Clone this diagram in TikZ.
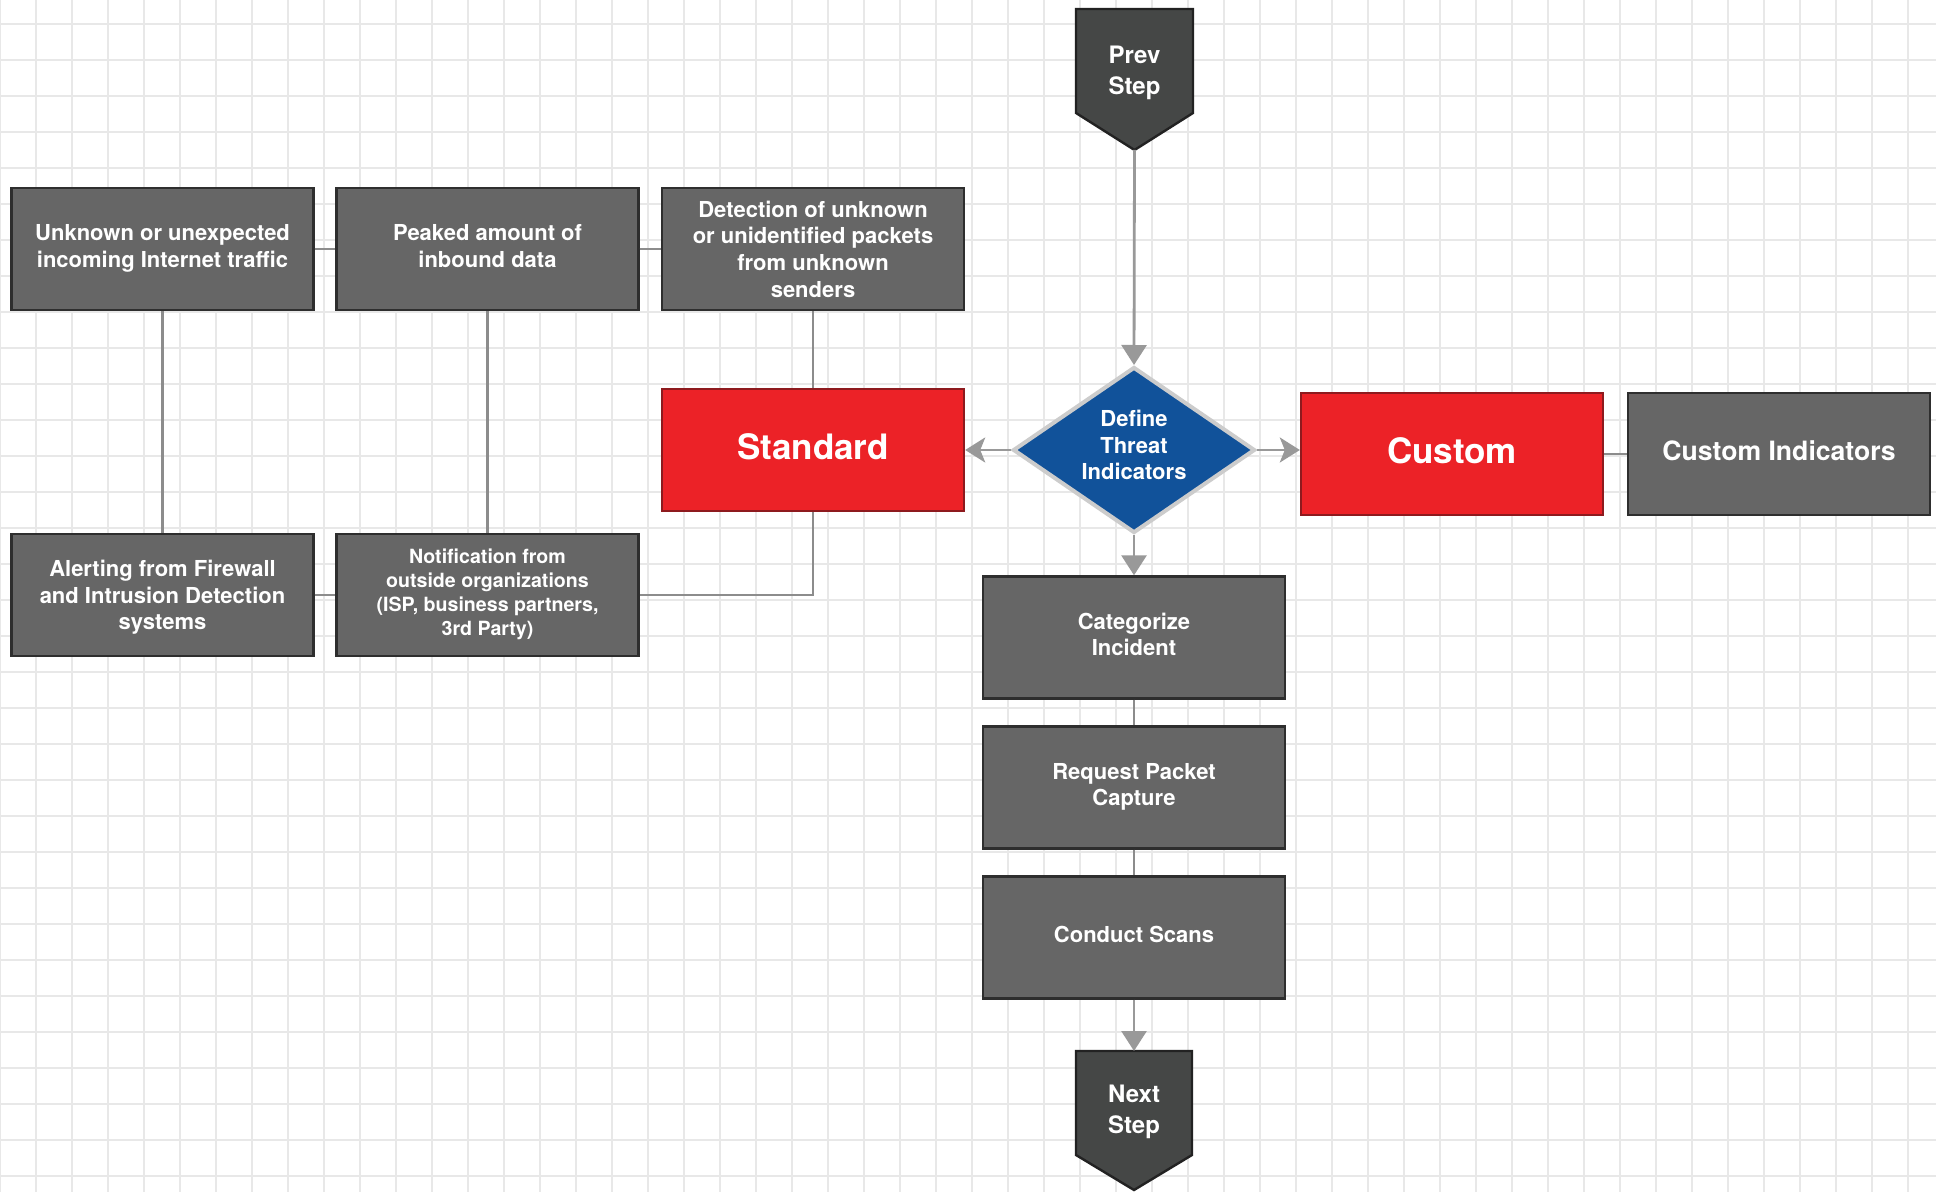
\documentclass[tikz,border=0pt]{standalone}
\usepackage{fontspec}
\setmainfont{TeX Gyre Heros}
\usepackage{tikz}
\usetikzlibrary{shapes.geometric,arrows.meta}
\usepackage{color}

\definecolor{boxgray}{HTML}{666666}
\definecolor{boxedge}{HTML}{2E2E2E}
\definecolor{stdred}{HTML}{EC2227}
\definecolor{rededge}{HTML}{8E1A1E}
\definecolor{defblue}{HTML}{11529A}
\definecolor{defedge}{HTML}{CCCCCC}
\definecolor{stepgray}{HTML}{454746}
\definecolor{stepedge}{HTML}{222222}
\definecolor{linkgray}{HTML}{8C8C8C}
\definecolor{arrowgray}{HTML}{999999}
\definecolor{gridgray}{HTML}{E8E8E8}

\begin{document}
\begin{tikzpicture}[x=0.5pt, y=-0.5pt,
  box/.style={draw=boxedge, fill=boxgray, line width=1.2pt, text=white,
    minimum width=151pt, minimum height=61pt, inner sep=2pt, align=center,
    text depth=0.3em, font=\bfseries\fontsize{11}{13.3}\selectfont},
  redbox/.style={box, draw=rededge, fill=stdred,
    font=\bfseries\fontsize{17.5}{20}\selectfont},
  decision/.style={diamond, aspect=1.45, draw=defedge, fill=defblue,
    line width=2pt, text=white, inner sep=0pt, minimum width=121pt,
    minimum height=83pt, align=center, text depth=5pt,
    font=\bfseries\fontsize{11}{13.3}\selectfont},
  steptext/.style={text=white, align=center, font=\bfseries\fontsize{12}{15.5}\selectfont},
  stepshape/.style={draw=stepedge, fill=stepgray, line width=1.2pt, line join=miter},
  link/.style={draw=linkgray, line width=1.25pt},
  flow/.style={draw=arrowgray, line width=1.4pt,
    -{Triangle[length=10pt, width=12.5pt]}},
  sideflow/.style={draw=arrowgray, line width=1.4pt,
    -{Stealth[length=10pt, width=12.5pt, inset=2.5pt]}},
  gridline/.style={draw=gridgray, line width=1pt}
]
\useasboundingbox (0,0) rectangle (1936,1192);
\fill[white] (0,0) rectangle (1936,1192);
\foreach \gx in {0,36,...,1944} \draw[gridline] (\gx-0.5,0) -- (\gx-0.5,1192);
\foreach \gy in {24,60,...,1192} \draw[gridline] (0,\gy) -- (1936,\gy);

% indicators
\node[box] (unknown) at (162.5,249) {Unknown or unexpected\\incoming Internet traffic};
\node[box] (peaked) at (487.5,249) {Peaked amount of\\inbound data};
\node[box, text depth=0pt] (detect) at (813,249) {Detection of unknown\\or unidentified packets\\from unknown\\senders};
\node[box, text depth=0pt] (alerting) at (162.5,595) {Alerting from Firewall\\and Intrusion Detection\\systems};
\node[box, font=\bfseries\fontsize{9.8}{11.9}\selectfont] (notify) at (487.5,595)
  {Notification from\\outside organizations\\(ISP, business partners,\\3rd Party)};
\node[redbox] (standard) at (813,450) {Standard};

\node[decision] (define) at (1134,450) {Define\\Threat\\Indicators};
\node[redbox] (custom) at (1452,454) {Custom};
\node[box, font=\bfseries\fontsize{13.3}{16}\selectfont] (customind) at (1779,454) {Custom Indicators};

\node[box] (categorize) at (1134,637.5) {Categorize\\Incident};
\node[box] (request) at (1134,787.5) {Request Packet\\Capture};
\node[box] (scans) at (1134,937.5) {Conduct Scans};

% prev / next
\draw[stepshape] (1076,9) -- (1193,9) -- (1193,113) -- (1134.5,150) coordinate (prevtip)
  -- (1076,113) -- cycle;
\node[steptext] (prev) at (1134.5,73) {Prev\\Step};
\draw[stepshape] (1076,1051) -- (1192,1051) -- (1192,1155)
  -- (1134,1190) -- (1076,1155) -- cycle;
\coordinate (nexttop) at (1134,1051);
\node[steptext] (next) at (1134,1112) {Next\\Step};

\path
  (unknown) edge[link] (peaked)
  (peaked) edge[link] (detect)
  (unknown) edge[link] (alerting)
  (peaked) edge[link] (notify)
  (alerting) edge[link] (notify)
  (detect) edge[link] (standard)
  (custom) edge[link] (customind)
  (categorize) edge[link] (request)
  (request) edge[link] (scans);
\draw[link] (standard.south) |- (notify.east);

\path
  (prevtip) edge[flow] (define.north)
  (define.south) edge[flow] (categorize.north)
  (scans) edge[flow] (nexttop)
  (define.west) edge[sideflow] (standard.east)
  (define.east) edge[sideflow] (define.east -| custom.west);
\end{tikzpicture}
\end{document}
